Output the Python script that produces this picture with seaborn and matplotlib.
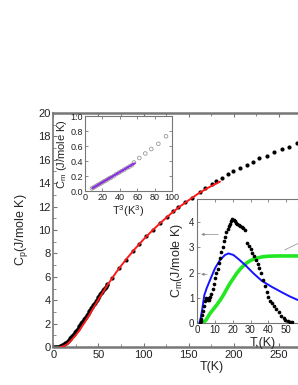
import numpy as np
import pandas as pd
import matplotlib
matplotlib.use("Agg")
import matplotlib.pyplot as plt
import seaborn as sns

# main panel: Cp(T) data (black dots) and fit (red line)
T_cp = [1, 2, 3, 4, 5, 6, 7, 8, 9, 10, 11, 12, 13, 14, 15, 16, 17, 18, 19, 20,
        21, 22, 23, 24, 25, 26, 27, 28, 29, 30, 31, 32, 33, 34, 35, 36, 37, 38, 39, 40,
        41, 42, 43, 44, 45, 46, 47, 48, 49, 50, 51, 52, 53, 54, 55, 56, 57, 58, 59, 60,
        65, 73, 80, 88, 95, 103, 110, 118,
        125.6, 132.9, 138.4, 145.8, 153.3, 162.5, 168, 175.4, 180.5, 186.5, 193.8,
        199.3, 206.7, 214.2, 220.8, 228.1, 236.3, 244.4, 252.9, 261.3, 269.5]
Cp = [0.0, 0.0, 0.005, 0.01, 0.02, 0.04, 0.06, 0.09, 0.12, 0.16, 0.21, 0.26, 0.32, 0.38,
      0.45, 0.52, 0.60, 0.68, 0.77, 0.86, 0.95, 1.05, 1.15, 1.25, 1.35, 1.46, 1.57,
      1.68, 1.79, 1.90, 2.01, 2.13, 2.24, 2.36, 2.48, 2.60, 2.72, 2.84, 2.96, 3.08,
      3.20, 3.32, 3.44, 3.56, 3.68, 3.80, 3.92, 4.04, 4.15, 4.27, 4.38, 4.50, 4.61,
      4.72, 4.83, 4.94, 5.05, 5.16, 5.27, 5.38,
      5.92, 6.75, 7.45, 8.2, 8.8, 9.45, 10.0, 10.6, 11.14,
      11.62, 12.0, 12.42, 12.76, 13.27, 13.56, 13.9, 14.17, 14.47, 14.79, 15.04,
      15.32, 15.56, 15.84, 16.13, 16.35, 16.64, 16.9, 17.12, 17.41]
T_fit = [8, 12, 16, 20, 25, 30, 35, 40, 45, 50, 55, 60, 70, 80, 90, 100, 110, 120,
         130, 140, 150, 160, 170, 180, 184.6]
Cp_fit = [0.0, 0.08, 0.28, 0.58, 1.02, 1.55, 2.13, 2.75, 3.4, 4.05, 4.68, 5.3, 6.42,
          7.43, 8.35, 9.2, 9.98, 10.7, 11.38, 12.0, 12.55, 13.08, 13.55, 13.95, 14.13]

# upper inset: Cm vs T^3
T3 = [8, 10, 12, 14, 16, 18, 20, 22, 24, 26, 28, 30, 33, 36, 39, 42, 45, 48, 51, 54,
      56.3, 62.4, 69.3, 76.2, 84.3, 93.1]
Cm_T3 = [0.035, 0.047, 0.06, 0.075, 0.088, 0.10, 0.115, 0.13, 0.14, 0.155, 0.17, 0.18,
         0.20, 0.225, 0.245, 0.265, 0.285, 0.305, 0.325, 0.345, 0.38, 0.44, 0.50, 0.56,
         0.63, 0.73]
T3_lin = [8.4, 57.1]
Cm_lin = [0.036, 0.37]

# lower inset: magnetic Cm(T)
T_m = [1.5, 2.0, 2.5, 3.0, 3.5, 4.0, 4.5, 5.0, 5.5, 6.0, 6.5, 7.0, 7.5, 8.0, 8.7, 9.4,
       10.1, 10.8, 11.5, 12.2, 12.9, 13.6, 14.3, 15.0, 15.7, 16.4, 17.1, 17.8, 18.5,
       19.2, 19.9, 20.6, 21.3, 22.0, 22.7, 23.5, 24.3, 25.1, 26.0, 27.0, 28.0, 29.0,
       30.0, 31.0, 32.0, 33.0, 34.0, 35.0, 36.0, 37.0, 38.0, 39.0, 40.0, 41.0, 42.0,
       43.0, 44.5, 46.0, 47.2, 48.5, 49.5, 51.0, 52.2, 53.5]
Cm = [0.0, 0.05, 0.15, 0.3, 0.45, 0.65, 0.85, 0.97, 0.95, 0.9, 0.92, 0.97, 1.04, 1.15,
      1.35, 1.55, 1.77, 1.97, 2.16, 2.36, 2.56, 2.8, 3.03, 3.24, 3.43, 3.6, 3.74, 3.85,
      3.95, 4.05, 4.13, 4.1, 4.05, 3.98, 3.93, 3.9, 3.86, 3.82, 3.76, 3.7, 3.18, 3.05,
      2.92, 2.78, 2.64, 2.5, 2.35, 2.18, 1.98, 1.72, 1.45, 1.22, 1.03, 0.88, 0.77, 0.68,
      0.55, 0.42, 0.28, 0.17, 0.1, 0.06, 0.04, 0.03]
T_blue = [1.3, 2.0, 3.0, 4.1, 5.4, 7.3, 10.1, 12.9, 15.7, 17.6, 20.4, 23.2, 27.0, 31.6,
          36.3, 41.9, 47.6, 52.2, 56.7, 62.0]
Cm_blue = [0.0, 0.15, 0.57, 1.1, 1.37, 1.7, 2.17, 2.5, 2.7, 2.76, 2.7, 2.54, 2.3, 1.97,
           1.67, 1.43, 1.21, 1.04, 0.9, 0.76]
T_green = [3.5, 5.0, 7.3, 9.0, 11.0, 13.0, 14.8, 16.5, 18.5, 20.5, 22.3, 24.0, 26.0,
           28.0, 29.8, 32.0, 34.5, 37.0, 40.0, 45.0, 50.0, 57.0, 62.0]
Cm_green = [0.0, 0.1, 0.37, 0.52, 0.7, 0.9, 1.1, 1.32, 1.57, 1.78, 1.97, 2.12, 2.27,
            2.39, 2.47, 2.54, 2.59, 2.63, 2.65, 2.66, 2.66, 2.66, 2.66]

# annotation arrows / guide line in lower inset
arrow_y = [3.52, 1.93]
arrow_from = [13.5, 7.3]
guide_x = [49.2, 56.7, 62.0]
guide_y = [2.9, 3.16, 3.37]

sns.set_theme(style="ticks")
plt.rcParams['font.family'] = ['Liberation Sans', 'DejaVu Sans']
plt.rcParams['mathtext.fontset'] = 'custom'
plt.rcParams['mathtext.rm'] = 'Liberation Sans'
plt.rcParams['mathtext.it'] = 'Liberation Sans:italic'

W, H = 298, 385
fig = plt.figure(figsize=(W / 100, H / 100), dpi=100)
spine_c = '#777777'

# ---- main axes
ax = fig.add_axes([53.3 / W, 38 / H, 316 / W, 234 / H])
sns.scatterplot(x=T_cp, y=Cp, ax=ax, color='black', s=9, linewidth=0, zorder=2)
sns.lineplot(x=T_fit, y=Cp_fit, ax=ax, color='#ff1a1a', lw=1.4, sort=False,
             estimator=None, zorder=3)
ax.set_xlim(0, 350)
ax.set_ylim(0, 20)
ax.set_xticks(np.arange(0, 251, 50))
ax.set_xticks(np.arange(0, 351, 25), minor=True)
ax.set_yticks(np.arange(0, 21, 2))
ax.set_yticks(np.arange(0, 21, 1), minor=True)
ax.tick_params(which='both', direction='in', top=True, labelsize=8, colors='#222222',
               pad=2)
ax.tick_params(which='major', length=3, width=0.8, color=spine_c)
ax.tick_params(which='minor', length=2, width=0.6, color=spine_c)
for s in ['left', 'bottom', 'top', 'right']:
    ax.spines[s].set_color(spine_c)
    ax.spines[s].set_linewidth(1.8)
ax.spines['left'].set_linewidth(1.2)
ax.set_xlabel('T(K)', fontsize=9, labelpad=1)
ax.set_ylabel(r'C$_\mathrm{p}$(J/mole K)', fontsize=9, labelpad=6)

# ---- upper inset
ax1 = fig.add_axes([85 / W, (H - 191) / H, 87 / W, 75 / H])
sns.scatterplot(x=T3, y=Cm_T3, ax=ax1, s=7, facecolor='none', edgecolor='#999999',
                linewidth=0.6, zorder=2)
sns.lineplot(x=T3_lin, y=Cm_lin, ax=ax1, color='#8a2be2', lw=1.5, sort=False,
             estimator=None, zorder=3)
ax1.set_xlim(0, 100)
ax1.set_ylim(0, 1.0)
ax1.set_xticks(np.arange(0, 101, 20))
ax1.set_yticks(np.arange(0, 1.01, 0.2))
ax1.set_yticklabels(['%.1f' % v for v in np.arange(0, 1.01, 0.2)])
ax1.tick_params(direction='in', top=True, right=True, labelsize=6.5, length=2,
                width=0.6, color=spine_c, colors='#222222', pad=1.5)
for s in ax1.spines.values():
    s.set_color(spine_c)
    s.set_linewidth(0.8)
ax1.set_xlabel(r'T$^3$(K$^3$)', fontsize=8, labelpad=1)
ax1.set_ylabel(r'C$_\mathrm{m}$ (J/mole K)', fontsize=8, labelpad=1)

# ---- lower inset
ax2 = fig.add_axes([197 / W, 62.3 / H, 132 / W, 123.7 / H])
ax2.set_facecolor('white')
sns.lineplot(x=T_green, y=Cm_green, ax=ax2, color='#22e822', lw=2.6, sort=False,
             estimator=None, zorder=2)
sns.lineplot(x=T_blue, y=Cm_blue, ax=ax2, color='#1414ff', lw=1.4, sort=False,
             estimator=None, zorder=3)
sns.scatterplot(x=T_m, y=Cm, ax=ax2, color='black', s=7, linewidth=0, zorder=4)
for y0, x0 in zip(arrow_y, arrow_from):
    ax2.annotate('', xy=(0.8, y0), xytext=(x0, y0),
                 arrowprops=dict(arrowstyle='-|>', color='#888888', lw=0.5,
                                 mutation_scale=4))
ax2.plot(guide_x, guide_y, color='#999999', lw=0.6)
ax2.set_xlim(0, 74)
ax2.set_ylim(0, 4.93)
ax2.set_xticks(np.arange(0, 51, 10))
ax2.set_xticks(np.arange(0, 71, 10), minor=True)
ax2.set_yticks(np.arange(0, 5, 1))
ax2.tick_params(which='both', direction='in', top=True, right=True, labelsize=7,
                length=2, width=0.6, color=spine_c, colors='#222222', pad=2)
for s in ax2.spines.values():
    s.set_color(spine_c)
    s.set_linewidth(0.8)
ax2.set_xlabel('T,(K)', fontsize=9, labelpad=1)
ax2.set_ylabel(r'C$_\mathrm{m}$(J/mole K)', fontsize=9, labelpad=3)

fig.savefig('out.png', dpi=100)
